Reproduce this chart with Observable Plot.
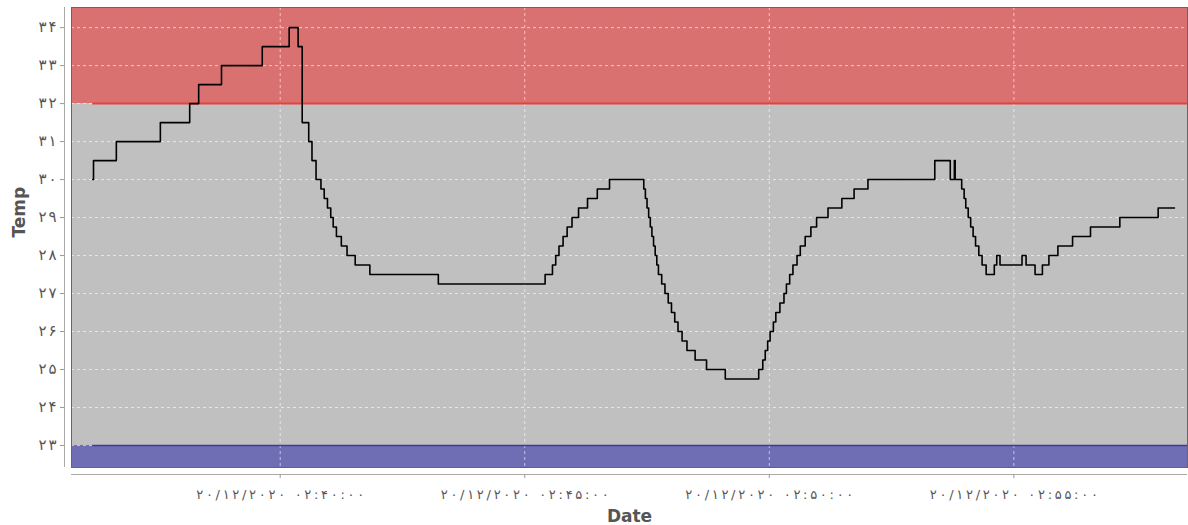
<!DOCTYPE html>
<html><head><meta charset="utf-8">
<script src="https://cdn.jsdelivr.net/npm/d3@7"></script>
<script src="https://cdn.jsdelivr.net/npm/@observablehq/plot@0.6"></script>
<style>
body{margin:0;background:#fff;}
svg{display:block}
</style>
</head><body><div id="chart"></div>
<script>
const day = "2020-12-20";
const times = ["02:36:10","02:36:11","02:36:39","02:37:33","02:38:09","02:38:20","02:38:48","02:39:38","02:40:11","02:40:22",
"02:40:27","02:40:35","02:40:39","02:40:44","02:40:50","02:40:54","02:40:58","02:41:02","02:41:05","02:41:09",
"02:41:15","02:41:22","02:41:32","02:41:50","02:43:14","02:45:25","02:45:34","02:45:38","02:45:42","02:45:47",
"02:45:52","02:45:58","02:46:06","02:46:17","02:46:29","02:46:44","02:47:26","02:47:28","02:47:30","02:47:32",
"02:47:34","02:47:36","02:47:38","02:47:40","02:47:42","02:47:44","02:47:48","02:47:52","02:47:56","02:48:00",
"02:48:04","02:48:08","02:48:13","02:48:19","02:48:29","02:48:43","02:49:06","02:49:47","02:49:52","02:49:55",
"02:49:58","02:50:01","02:50:05","02:50:08","02:50:13","02:50:18","02:50:21","02:50:25","02:50:29","02:50:34",
"02:50:38","02:50:44","02:50:51","02:50:58","02:51:12","02:51:29","02:51:44","02:52:01","02:53:23","02:53:42",
"02:53:47","02:53:48","02:53:56","02:53:59","02:54:01","02:54:04","02:54:07","02:54:10","02:54:13","02:54:17",
"02:54:21","02:54:26","02:54:36","02:54:39","02:54:43","02:55:10","02:55:15","02:55:26","02:55:35","02:55:43",
"02:55:54","02:56:12","02:56:34","02:57:10","02:57:57","02:58:17"];
const temps = [30.0,30.5,31.0,31.5,32.0,32.5,33.0,33.5,34.0,33.5,
31.5,31.0,30.5,30.0,29.75,29.5,29.25,29.0,28.75,28.5,
28.25,28.0,27.75,27.5,27.25,27.5,27.75,28.0,28.25,28.5,
28.75,29.0,29.25,29.5,29.75,30.0,29.75,29.5,29.25,29.0,
28.75,28.5,28.25,28.0,27.75,27.5,27.25,27.0,26.75,26.5,
26.25,26.0,25.75,25.5,25.25,25.0,24.75,25.0,25.25,25.5,
25.75,26.0,26.25,26.5,26.75,27.0,27.25,27.5,27.75,28.0,
28.25,28.5,28.75,29.0,29.25,29.5,29.75,30.0,30.5,30.0,
30.5,30.0,29.75,29.5,29.25,29.0,28.75,28.5,28.25,28.0,
27.75,27.5,27.75,28.0,27.75,28.0,27.75,27.5,27.75,28.0,
28.25,28.5,28.75,29.0,29.25,29.25];
const xTicks = ["02:40:00","02:45:00","02:50:00","02:55:00"];
const yTicks = [23,24,25,26,27,28,29,30,31,32,33,34];
const upperLimit = 32;
const lowerLimit = 23;
const xDomainTimes = ["02:35:44","02:58:33"];
const yDomain = [22.42, 34.53];

const toDate = t => new Date(`${day}T${t}Z`);
const fa = s => String(s).replace(/\d/g, d => "۰۱۲۳۴۵۶۷۸۹"[+d]);
const fmt = d3.utcFormat("%d/%m/%Y %H:%M:%S");
const data = times.map((t, i) => ({time: toDate(t), temp: temps[i]}));
const xDomain = xDomainTimes.map(toDate);
const xTickDates = xTicks.map(toDate);
const start = data[0].time;

const chart = Plot.plot({
  width: 1188,
  height: 525,
  marginLeft: 71,
  marginRight: 1,
  marginTop: 7,
  marginBottom: 58,
  style: {fontFamily: "DejaVu Sans, sans-serif", background: "#fff"},
  x: {type: "utc", domain: xDomain},
  y: {domain: yDomain},
  marks: [
    Plot.rect([{}], {x1: xDomain[0], x2: xDomain[1], y1: lowerLimit, y2: upperLimit, fill: "#c0c0c0"}),
    Plot.rect([{}], {x1: xDomain[0], x2: xDomain[1], y1: upperLimit, y2: yDomain[1], fill: "#da7171"}),
    Plot.rect([{}], {x1: xDomain[0], x2: xDomain[1], y1: yDomain[0], y2: lowerLimit, fill: "#6f6db3"}),
    Plot.gridY(yTicks, {stroke: "#fff", strokeOpacity: 0.6, strokeDasharray: "3,3"}),
    Plot.gridX(xTickDates, {stroke: "#fff", strokeOpacity: 0.6, strokeDasharray: "3,3"}),
    Plot.ruleY([upperLimit], {x1: start, x2: xDomain[1], stroke: "#e8403f", strokeWidth: 2}),
    Plot.ruleY([lowerLimit], {x1: start, x2: xDomain[1], stroke: "#3c3c9c", strokeWidth: 1.5}),
    Plot.lineY(data, {x: "time", y: "temp", curve: "step-after", stroke: "#000", strokeWidth: 1.6}),
    Plot.frame({stroke: "#666"}),
    Plot.ruleX([xDomain[0]], {y1: yDomain[0], y2: yDomain[1], dx: -7, stroke: "#aaa"}),
    Plot.ruleY([yDomain[0]], {x1: xDomain[0], x2: xDomain[1], dy: 7, stroke: "#aaa"}),
    Plot.axisY(yTicks, {dx: -7, tickSize: 4, tickPadding: 4, fontSize: 15, color: "#555", stroke: "#999", tickFormat: d => fa(d), label: null}),
    Plot.axisX(xTickDates, {dy: 7, tickSize: 4, tickPadding: 11, fontSize: 13, color: "#555", stroke: "#999", tickFormat: d => fa(fmt(d)), label: null}),
    Plot.text(["Temp"], {frameAnchor: "left", dx: -52, rotate: -90, fontSize: 17, fontWeight: "bold", fill: "#555"}),
    Plot.text(["Date"], {frameAnchor: "bottom", dy: 54, fontSize: 17, fontWeight: "bold", fill: "#555"})
  ]
});
d3.select(chart).selectAll('g[aria-label="x-axis tick label"] text')
  .attr("textLength", 168).attr("lengthAdjust", "spacing");
d3.select(chart).selectAll('g[aria-label="y-axis tick label"] text')
  .attr("textLength", 18).attr("lengthAdjust", "spacing");
document.getElementById("chart").append(chart);
</script>
</body></html>
